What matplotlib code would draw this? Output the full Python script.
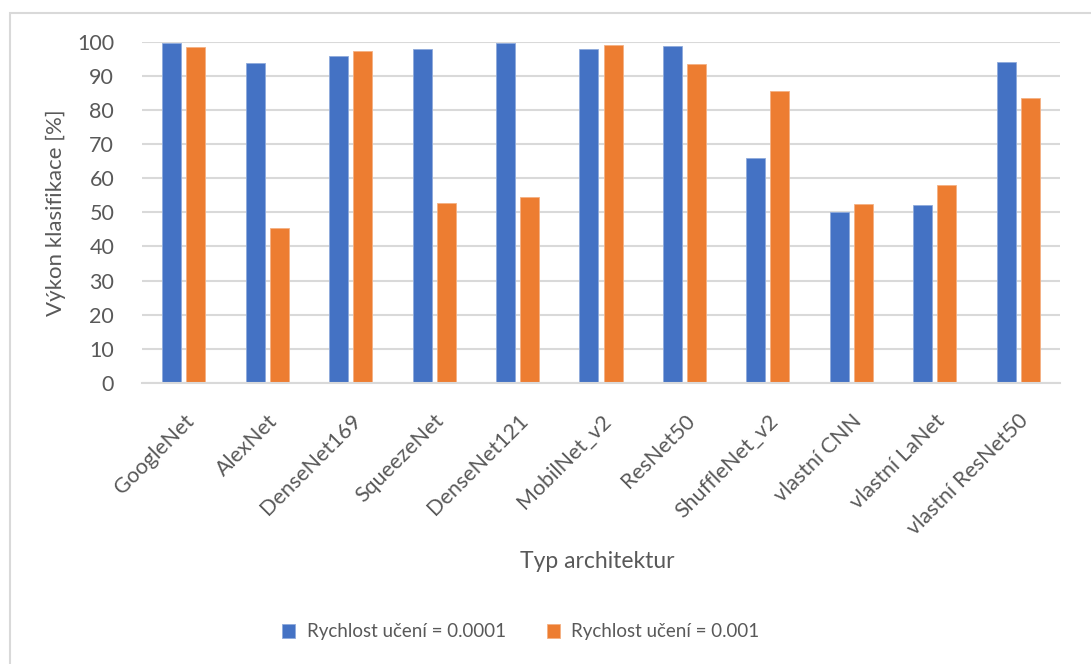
import matplotlib.pyplot as plt
import matplotlib.patches as patches
import numpy as np

# data
architectures = ['GoogleNet', 'AlexNet', 'DenseNet169', 'SqueezeNet', 'DenseNet121',
                 'MobilNet_v2', 'ResNet50', 'ShuffleNet_v2', 'vlastní CNN',
                 'vlastní LaNet', 'vlastní ResNet50']
lr_0001 = [99.5, 93.7, 95.8, 98.0, 99.5, 98.0, 98.6, 66.0, 50.1, 52.2, 94.0]
lr_001 = [98.5, 45.4, 97.2, 52.8, 54.6, 98.9, 93.6, 85.5, 52.5, 57.9, 83.6]
series_labels = ['Rychlost učení = 0.0001', 'Rychlost učení = 0.001']
y_ticks = list(range(0, 101, 10))

plt.rcParams['font.family'] = ['Lato', 'DejaVu Sans']
text_color = '#595959'
grid_color = '#d9d9d9'
blue = '#4472C4'
orange = '#ED7D31'

fig = plt.figure(figsize=(10.91, 6.64), dpi=100)

# chart area border
border = patches.Rectangle((10 / 1091, -0.01), 1.1, 1 - 13 / 664 + 0.01,
                           transform=fig.transFigure, fill=False,
                           edgecolor=grid_color, linewidth=1.5)
fig.patches.append(border)

ax = fig.add_axes([142 / 1091, 1 - 383 / 664, (1060 - 142) / 1091, (383 - 41.7) / 664])

x = np.arange(len(architectures))
bar_w = 0.228
offset = 0.144
ax.bar(x - offset, lr_0001, width=bar_w, color=blue, edgecolor='#8faadc',
       linewidth=0.6, label=series_labels[0], zorder=3)
ax.bar(x + offset, lr_001, width=bar_w, color=orange, edgecolor='#f4b183',
       linewidth=0.6, label=series_labels[1], zorder=3)

ax.set_xlim(-0.5, len(architectures) - 0.5)
ax.set_ylim(0, 100)
ax.set_yticks(y_ticks)
ax.yaxis.grid(True, color=grid_color, linewidth=1.5, zorder=0)
ax.set_axisbelow(True)
for side in ['top', 'right', 'left']:
    ax.spines[side].set_visible(False)
ax.spines['bottom'].set_color(grid_color)
ax.spines['bottom'].set_linewidth(1.5)
ax.spines['bottom'].set_zorder(4)
ax.tick_params(axis='both', length=0, labelsize=15.5, colors=text_color)
ax.tick_params(axis='x', pad=20)
ax.tick_params(axis='y', pad=20)

ax.set_xticks(x)
ax.set_xticklabels(architectures, rotation=45, ha='right', rotation_mode='anchor')

ax.set_ylabel('Výkon klasifikace [%]', fontsize=16, color=text_color, labelpad=8)
fig.text(597 / 1091, 1 - 562 / 664, 'Typ architektur', fontsize=16.5,
         color=text_color, ha='center', va='center')

fig.legend(loc='center', bbox_to_anchor=(521 / 1091, 1 - 632 / 664), ncol=2,
           frameon=False, fontsize=13.5, labelcolor=text_color,
           handlelength=0.7, handleheight=0.7, columnspacing=2.2, handletextpad=0.6)

fig.savefig('out.png', dpi=100)
